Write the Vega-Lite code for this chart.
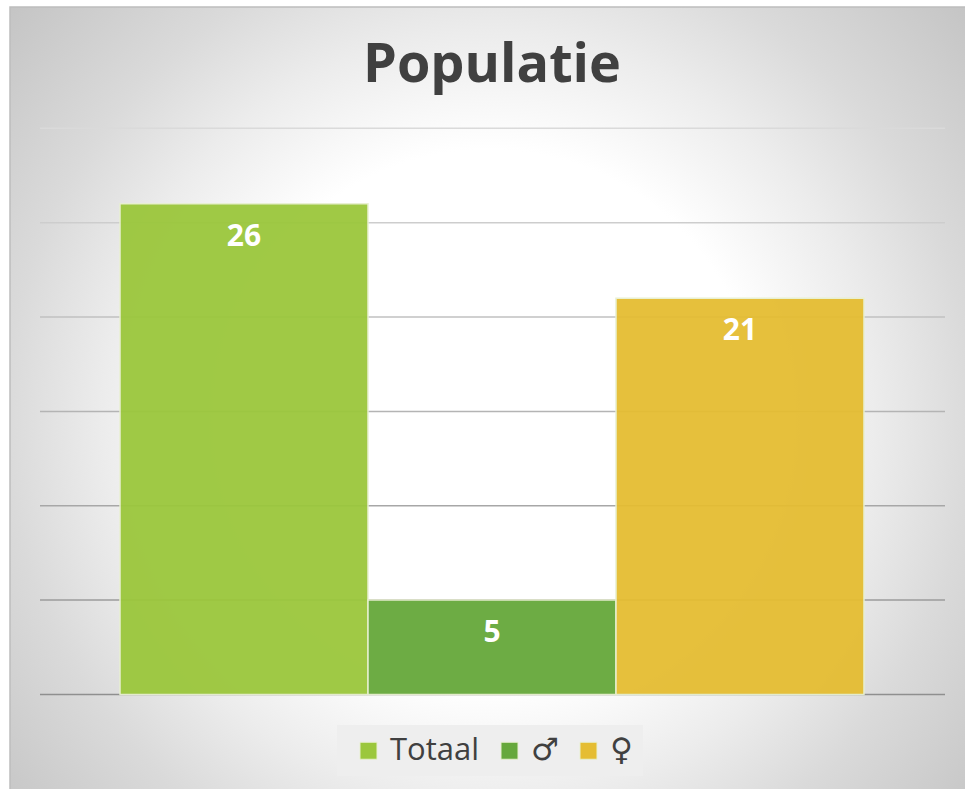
{
 "$schema":"https://vega.github.io/schema/vega-lite/v6.json",
 "width":958,"height":785,
 "autosize":"none",
 "padding":{"left":10,"top":7,"right":0,"bottom":0},
 "background":"white",
 "view":{"stroke":"#bdbdbd","strokeWidth":1.5,"fill":{"gradient":"radial","x1":0.5,"y1":0.52,"x2":0.5,"y2":0.52,"r1":0,"r2":0.72,"stops":[{"offset":0,"color":"#ffffff"},{"offset":0.39,"color":"#ffffff"},{"offset":0.56,"color":"#ececec"},{"offset":0.7,"color":"#dadada"},{"offset":1,"color":"#bcbcbc"}]}},
 "title":{"text":"Populatie","font":"Open Sans","fontWeight":"bold","fontSize":54,"color":"#404040","anchor":"middle","dx":3,"offset":-86},
 "datasets":{
  "pop":[{"groep":"Totaal","aantal":26},{"groep":"♂","aantal":5},{"groep":"♀","aantal":21}],
  "grid":[{"niveau":0},{"niveau":5},{"niveau":10},{"niveau":15},{"niveau":20},{"niveau":25},{"niveau":30}]
 },
 "resolve":{"scale":{"x":"independent"}},
 "layer":[
  {"data":{"name":"grid"},
   "mark":{"type":"rule","strokeWidth":1.5},
   "encoding":{
    "x":{"datum":0,"type":"quantitative","axis":null,"scale":{"domain":[0,1],"range":[30,935]}},
    "x2":{"datum":1},
    "y":{"field":"niveau","type":"quantitative","axis":null,"scale":{"domain":[-5.17,36.43],"nice":false,"zero":false}},
    "stroke":{"field":"niveau","type":"quantitative","legend":null,"scale":{"domain":[0,30],"range":["#8f8f8f","#dadada"]}}
   }},
  {"data":{"name":"pop"},
   "mark":{"type":"bar","opacity":0.95,"stroke":"#e8f0d0","strokeWidth":1.5},
   "encoding":{
    "x":{"field":"groep","type":"nominal","sort":null,"axis":null,"scale":{"type":"band","domain":["Totaal","♂","♀"],"paddingInner":0,"paddingOuter":0.4315,"align":0.514}},
    "y":{"field":"aantal","type":"quantitative","axis":null,"scale":{"domain":[-5.17,36.43],"nice":false,"zero":false}},
    "y2":{"datum":0},
    "fill":{"field":"groep","type":"nominal","scale":{"domain":["Totaal","♂","♀"],"range":["#9bc73c","#66a83b","#e5bd32"]},
     "legend":{"title":null,"orient":"none","legendX":327,"legendY":718,"direction":"horizontal","columns":3,"fillColor":"#eeeeee","padding":10,"symbolType":"square","symbolSize":290,"symbolOpacity":1,"symbolStrokeColor":"#e8f0d0","symbolStrokeWidth":1,"labelFont":"Open Sans, DejaVu Sans","labelFontSize":31,"labelColor":"#404040","labelLimit":200,"columnPadding":8,"symbolOffset":6,"labelOffset":6}}
   }},
  {"data":{"name":"pop"},
   "mark":{"type":"text","color":"white","font":"Open Sans","fontWeight":"bold","fontSize":30,"baseline":"middle","dy":33},
   "encoding":{
    "x":{"field":"groep","type":"nominal","sort":null,"axis":null,"scale":{"type":"band","domain":["Totaal","♂","♀"],"paddingInner":0,"paddingOuter":0.4315,"align":0.514},"bandPosition":0.5},
    "y":{"field":"aantal","type":"quantitative","axis":null,"scale":{"domain":[-5.17,36.43],"nice":false,"zero":false}},
    "text":{"field":"aantal","type":"quantitative"}
   }}
 ]
}
